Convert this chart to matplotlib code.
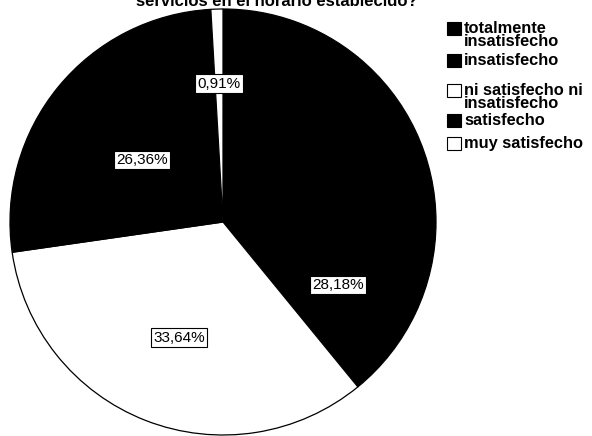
"""
Gráfico de sectores: satisfacción con los servicios en el horario establecido.
"""

import matplotlib
matplotlib.use("Agg")
import numpy as np
import matplotlib.pyplot as plt
from matplotlib.patches import Rectangle

# categorías y porcentajes (orden de la leyenda, sentido horario desde arriba)
categorias = [
    "totalmente\ninsatisfecho",
    "insatisfecho",
    "ni satisfecho ni\ninsatisfecho",
    "satisfecho",
    "muy satisfecho",
]
porcentajes = [10.91, 28.18, 33.64, 26.36, 0.91]
etiquetas = [None, "28,18%", "33,64%", "26,36%", "0,91%"]
colores = ["black", "black", "white", "black", "white"]

titulo = "servicios en el horario establecido?"

W, H = 592, 436


def px_fig(x, y):
    """pixel (desde arriba a la izquierda) -> fracción de figura"""
    return x / W, 1 - y / H


def main():
    plt.rcParams["font.family"] = ["Liberation Sans", "DejaVu Sans"]
    fig = plt.figure(figsize=(W / 100, H / 100), dpi=100)
    fig.patch.set_facecolor("white")

    # eje del pastel: centro (223, 222), radio 213 px
    cx, cy, r = 223, 222, 213
    ax = fig.add_axes([(cx - r) / W, (H - cy - r) / H, 2 * r / W, 2 * r / H])
    wedges, _ = ax.pie(
        porcentajes,
        colors=colores,
        startangle=90,
        counterclock=False,
        radius=1.0,
        wedgeprops=dict(edgecolor="black", linewidth=0.9),
    )
    ax.set_xlim(-1.0, 1.0)
    ax.set_ylim(-1.0, 1.0)
    ax.set_aspect("equal")
    ax.axis("off")
    for w in wedges:
        w.set_clip_on(False)

    # posición de las etiquetas: distancia radial y giro respecto al centro del sector
    dist = [0.6, 0.615, 0.58, 0.48, 0.65]
    giro = [0, -28.7, 0.5, 2.0, 0]
    for w, txt, d, g in zip(wedges, etiquetas, dist, giro):
        if txt is None:
            continue
        ang = np.deg2rad((w.theta1 + w.theta2) / 2 + g)
        ax.text(d * np.cos(ang), d * np.sin(ang), txt,
                ha="center", va="center", fontsize=11, color="black",
                bbox=dict(boxstyle="square,pad=0.15", facecolor="white",
                          edgecolor="black", linewidth=0.8))

    # título (sólo se ve la última línea, cortada arriba)
    tx, ty = px_fig(277, 6)
    fig.text(tx, ty, titulo, ha="center", va="baseline",
             fontsize=12, fontweight="bold")

    # leyenda dibujada a mano
    filas_y = [29, 61, 91, 121, 144]
    for nombre, col, yc in zip(categorias, colores, filas_y):
        x0, y0 = px_fig(447, yc + 6)
        fig.add_artist(Rectangle((x0, y0), 14 / W, 13 / H,
                                 transform=fig.transFigure,
                                 facecolor=col, edgecolor="black", linewidth=0.8))
        tx, ty = px_fig(464, yc - 8)
        fig.text(tx, ty, nombre, ha="left", va="top", fontsize=11.8,
                 fontweight="bold", linespacing=0.8)

    fig.savefig("out.png", dpi=100)


if __name__ == "__main__":
    main()
